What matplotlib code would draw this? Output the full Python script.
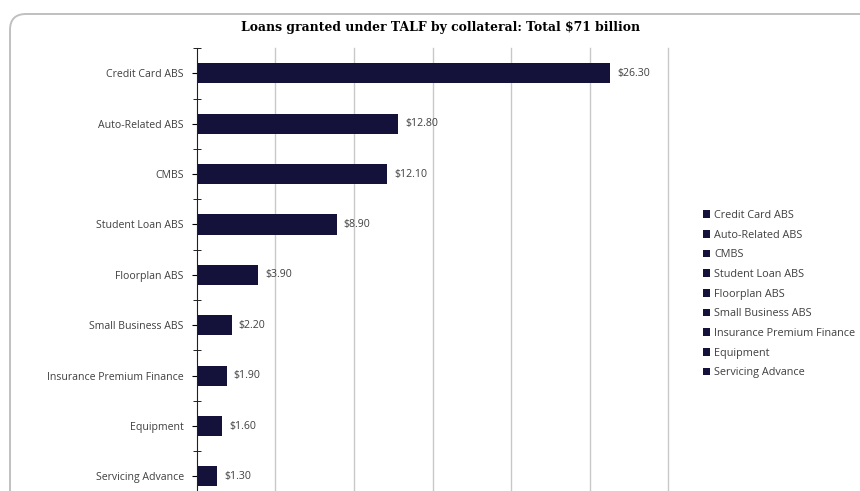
import numpy as np
import matplotlib.pyplot as plt
from matplotlib.patches import FancyBboxPatch

categories = ["Credit Card ABS", "Auto-Related ABS", "CMBS", "Student Loan ABS",
              "Floorplan ABS", "Small Business ABS", "Insurance Premium Finance",
              "Equipment", "Servicing Advance"]
values = [26.30, 12.80, 12.10, 8.90, 3.90, 2.20, 1.90, 1.60, 1.30]
grid_ticks = [5, 10, 15, 20, 25, 30]

title = "Loans granted under TALF by collateral: Total $71 billion"
bar_color = "#14113a"
text_color = "#404040"

plt.rcParams["font.family"] = ["Open Sans", "DejaVu Sans"]

fig = plt.figure(figsize=(8.6, 4.91), dpi=100)

# --- rounded chart border (cut off at right and bottom) ---
border = FancyBboxPatch((0.10, -0.4), 8.9, 5.17,
                        boxstyle="round,pad=0,rounding_size=0.16",
                        transform=fig.dpi_scale_trans, facecolor="none",
                        edgecolor="#c0c0c0", linewidth=1.4, zorder=-1)
fig.patches.append(border)

ax = fig.add_axes([0.229, -0.0216, 0.548, 0.9236])
ax.set_facecolor("none")

y = np.arange(len(categories))
bars = ax.barh(y, values, height=0.4, color=bar_color, zorder=3)
for b, c in zip(bars, categories):
    b.set_label(c)

for yi, v in zip(y, values):
    ax.text(v + 0.45, yi, f"${v:.2f}", va="center", ha="left",
            fontsize=7.6, color=text_color)

ax.set_xlim(0, 30)
ax.set_ylim(len(categories) - 0.5, -0.5)
ax.set_xticks(grid_ticks)
ax.tick_params(axis="x", length=0, labelbottom=False)
ax.grid(axis="x", color="#c8c8c8", linewidth=1.0, zorder=0)
for gl in ax.get_xgridlines():
    gl.set_clip_on(False)

ax.set_yticks(y)
ax.set_yticklabels(categories, fontsize=7.6, color=text_color)
ax.set_yticks(np.arange(len(categories) + 1) - 0.5, minor=True)
ax.tick_params(axis="y", which="major", length=3.5, direction="out", pad=6)
ax.tick_params(axis="y", which="minor", length=6, direction="inout")

for s in ["top", "right", "bottom"]:
    ax.spines[s].set_visible(False)
ax.spines["left"].set_color("#202020")
ax.spines["left"].set_zorder(4)

fig.text(0.512, 0.943, title, ha="center", va="center", fontsize=8.9,
         fontweight="bold", family=["DejaVu Serif"])

leg = fig.legend(handles=list(bars), loc="center left",
                 bbox_to_anchor=(0.812, 0.401), frameon=False, fontsize=7.8,
                 handlelength=0.7, handleheight=0.7, handletextpad=0.35,
                 labelspacing=0.8, borderaxespad=0)
for t in leg.get_texts():
    t.set_color(text_color)

fig.savefig("out.png", dpi=100)
